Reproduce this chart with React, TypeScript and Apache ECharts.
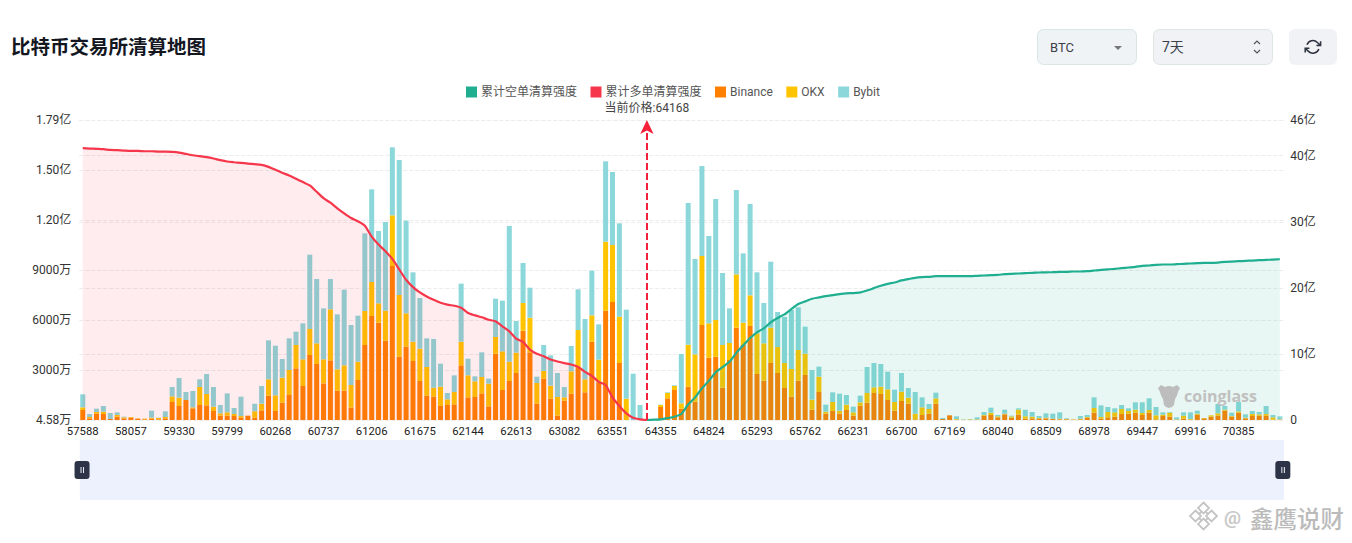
import React, { useEffect, useRef } from "react";
import * as echarts from "echarts";

const FONT = 'Roboto, "Noto Sans CJK SC", sans-serif';

const priceTicks = ["57588","58057","59330","59799","60268","60737","61206","61675","62144","62613","63082","63551","64355","64824","65293","65762","66231","66700","67169","68040","68509","68978","69447","69916","70385"];
const leftTickLabels = ["4.58万","3000万","6000万","9000万","1.20亿","1.50亿","1.79亿"];
const rightTickLabels = ["0","10亿","20亿","30亿","40亿","46亿"];

// Liquidation per price bucket, in units of 万
const binance = [
600,100,380,360,60,200,100,140,80,40,
80,40,100,1080,840,1200,700,900,880,540,
260,260,240,140,260,140,580,1460,540,1040,
1500,3100,2040,3900,3360,2200,3580,1760,1760,740,
2400,4500,6240,5840,4760,9240,3800,4400,3540,2340,
1460,1400,840,900,940,3280,1360,1380,1600,820,
3980,1800,2340,2820,5360,4060,980,2480,1280,260,
1160,1580,3200,1660,4700,2260,6560,7080,3420,0,
0,0,0,0,780,1300,1800,680,2000,1100,
5700,3740,3800,1940,3600,5540,4500,5640,2760,2360,
3420,2820,1920,1400,2360,2700,620,1680,380,540,
380,600,260,860,1040,1620,1560,1200,560,1140,
980,40,300,380,980,60,280,20,0,0,
20,260,300,160,340,140,320,80,100,80,
100,60,40,40,20,40,140,440,80,160,
200,360,380,440,300,440,40,240,200,20,
80,20,320,100,200,260,560,200,440,100,
240,260,260,20,20];
const okx = [
160,80,100,140,0,100,60,40,20,40,
60,80,80,340,500,0,60,1080,680,260,
140,200,120,100,0,380,400,980,940,1500,
1500,1400,1600,1560,1240,1440,3060,1280,1520,1360,
1100,2040,2040,1160,1800,3040,3700,2000,1160,1940,
1720,540,1160,340,740,1420,1320,940,980,1360,
1000,2320,1160,1220,1660,2080,1240,460,780,1120,
200,1340,2200,780,1580,1360,4140,3420,2780,1280,
0,0,0,0,120,320,240,320,2520,2840,
4140,2060,2200,2560,1020,3200,1340,1840,2440,2240,
2120,1560,1500,1660,1840,1280,600,920,120,540,
180,320,200,200,580,340,440,640,520,560,
360,340,460,280,320,0,0,40,20,40,
20,40,140,60,40,80,300,140,100,40,
40,20,40,20,20,40,40,280,100,320,
260,300,160,180,120,160,240,80,240,20,
180,40,60,20,80,140,60,40,80,40,
120,80,100,140,20];
const bybit = [
780,180,200,340,360,160,40,0,0,0,
420,20,340,560,1180,480,980,460,1200,1180,
500,1140,360,1160,0,460,1060,2340,2980,1120,
1900,800,2160,4460,3860,3060,1820,3300,4540,3600,
2760,4660,5560,4340,5320,4080,8100,5560,4160,3040,
1720,2920,1380,380,1000,3480,1000,300,1480,300,
2300,3040,8140,1900,2400,1800,380,1560,1820,1440,
620,1520,2440,3620,2680,2120,4820,4380,5600,5340,
2780,900,0,0,20,40,40,2960,8500,5720,
5400,5240,7260,4320,2080,5060,4160,5480,3660,2420,
3960,2100,2760,3540,2560,1620,1780,600,420,580,
1020,580,340,400,1560,1460,1360,1060,740,1120,
580,1300,600,300,340,60,0,160,20,20,
120,180,300,80,240,40,80,400,280,120,
260,300,380,40,0,160,120,640,700,300,
240,240,160,440,640,700,500,140,40,120,
200,400,180,0,0,560,220,200,560,200,
180,140,480,140,180];

// Cumulative long liquidation intensity, in 亿 (left of the current price)
const longCumulative = [
41.13,41.08,41.03,40.98,40.87,40.83,40.77,40.72,40.72,40.67,
40.67,40.62,40.62,40.57,40.47,40.27,40.07,39.92,39.77,39.57,
39.32,39.12,39.01,38.91,38.81,38.71,38.61,38.31,37.86,37.41,
37.00,36.50,36.00,35.50,34.54,33.58,32.88,32.03,31.27,30.57,
30.07,29.41,27.75,26.55,25.54,24.38,22.78,21.22,20.11,19.31,
18.70,18.20,17.75,17.45,17.29,16.99,16.19,15.84,15.54,15.18,
14.93,14.18,13.42,12.32,11.81,10.66,10.01,9.65,9.15,8.85,
8.60,8.40,8.04,7.29,6.69,5.78,5.28,3.42,2.11,1.01,
0.35,0.10,0];
// Cumulative short liquidation intensity, in 亿 (right of the current price)
const shortCumulative = [
0,0.05,0.10,0.30,0.50,0.90,2.36,3.42,4.78,5.93,
7.24,7.99,8.80,10.16,11.31,12.42,13.27,13.88,14.78,15.43,
15.99,16.79,17.55,17.95,18.35,18.55,18.75,18.90,19.05,19.16,
19.21,19.31,19.61,19.96,20.31,20.61,20.81,21.12,21.32,21.52,
21.62,21.67,21.77,21.77,21.77,21.77,21.77,21.77,21.82,21.87,
21.92,21.97,22.07,22.12,22.17,22.22,22.27,22.32,22.35,22.37,
22.42,22.42,22.47,22.47,22.52,22.62,22.73,22.78,22.88,22.98,
23.08,23.18,23.33,23.38,23.48,23.53,23.53,23.58,23.63,23.68,
23.73,23.78,23.78,23.83,23.93,23.98,24.03,24.08,24.13,24.18,
24.23,24.28,24.33];
const currentPriceIndex = 82;

const categories = binance.map((_, i) => (i % 7 === 0 ? priceTicks[i / 7] : String(i)));

const cgLogo = "M3 2 L7 4 Q11 2 15 4 L19 2 L22 5 L20 9 Q19 14 17 16 L16 22 Q14 25 11 25 Q8 25 6 22 L5 16 Q3 14 2 9 L0 5 Z";
const refreshIcon = "M23 4v6h-6 M1 20v-6h6 M3.51 9a9 9 0 0 1 14.85-3.36L23 10 M1 14l4.64 4.36A9 9 0 0 0 20.49 15";
echarts.graphic.registerShape("cgLogo", echarts.graphic.extendPath(cgLogo, {}));
echarts.graphic.registerShape("refreshIcon", echarts.graphic.extendPath(refreshIcon, {}));

const handlePath = "path://M3 0H12A3 3 0 0 1 15 3V15A3 3 0 0 1 12 18H3A3 3 0 0 1 0 15V3A3 3 0 0 1 3 0Z M6 6V12H7V6Z M8.5 6V12H9.5V6Z";

function diamond(cx: number, cy: number, r: number) {
  return {
    type: "polygon", z: 20,
    shape: { points: [[cx, cy - r], [cx + r, cy], [cx, cy + r], [cx - r, cy]] },
    style: { fill: "#fff", stroke: "#c4c4c4", lineWidth: 1.8 },
  };
}

export default function App() {
  const ref = useRef<HTMLDivElement>(null);
  useEffect(() => {
    const chart = echarts.init(ref.current!, null, { renderer: "svg" });
    const barSeries = (name: string, data: number[], color: string) => ({
      name, type: "bar", stack: "liq", yAxisIndex: 0, barWidth: 5, z: 1, data,
      itemStyle: { color }, emphasis: { disabled: true },
    });
    chart.setOption({
      animation: false,
      backgroundColor: "#fff",
      textStyle: { fontFamily: FONT },
      title: {
        text: "比特币交易所清算地图", left: 6, top: 31,
        textStyle: { fontSize: 19.5, fontWeight: 700, color: "#14171f", fontFamily: '"Noto Sans CJK SC", sans-serif' },
      },
      legend: {
        left: 461, top: 81, itemWidth: 11, itemHeight: 11, itemGap: 13.5, icon: "rect",
        data: ["累计空单清算强度", "累计多单清算强度", "Binance", "OKX", "Bybit"],
        textStyle: { fontSize: 12, color: "#555", fontFamily: FONT, padding: [0, 0, 0, -1] },
      },
      grid: { left: 79.3, right: 68.7, top: 120, height: 300 },
      xAxis: {
        type: "category", data: categories, boundaryGap: true,
        axisLine: { show: false }, axisTick: { show: false },
        axisLabel: { interval: 6, margin: 6, color: "#222", fontSize: 11.3, fontFamily: FONT },
      },
      yAxis: [
        {
          type: "value", min: 0, max: 18000, interval: 3000, position: "left",
          axisLine: { show: false }, axisTick: { show: false },
          axisLabel: { margin: 8, color: "#333", fontSize: 12, fontFamily: FONT, formatter: (_: number, i: number) => leftTickLabels[i] },
          splitLine: { show: true, lineStyle: { type: "dashed", color: "#ececec" } },
        },
        {
          type: "value", min: 0, max: 45.4, interval: 10, position: "right",
          axisLine: { show: false }, axisTick: { show: false },
          axisLabel: { margin: 7, color: "#333", fontSize: 12, fontFamily: FONT, formatter: (_: number, i: number) => rightTickLabels[i] },
          splitLine: { show: true, lineStyle: { type: "dashed", color: "#ececec" } },
        },
      ],
      dataZoom: [{
        type: "slider", xAxisIndex: 0, left: 79, right: 69, top: 440, height: 60,
        start: 0.1, end: 100,
        backgroundColor: "#EDF1FD", fillerColor: "#EDF1FD", borderColor: "transparent",
        showDetail: false, showDataShadow: false, brushSelect: false, moveHandleSize: 0,
        handleIcon: handlePath, handleSize: "30%",
        handleStyle: { color: "#2E3447", borderColor: "#2E3447", borderWidth: 0 },
        emphasis: { handleStyle: { color: "#2E3447", borderWidth: 0, shadowBlur: 0 } },
        dataBackground: { lineStyle: { opacity: 0 }, areaStyle: { opacity: 0 } },
        selectedDataBackground: { lineStyle: { opacity: 0 }, areaStyle: { opacity: 0 } },
      }],
      series: [
        {
          name: "累计空单清算强度", type: "line", yAxisIndex: 1, z: 2, showSymbol: false, smooth: 0.2,
          data: [...Array(currentPriceIndex).fill(null), ...shortCumulative],
          itemStyle: { color: "#1FAF90" }, lineStyle: { color: "#1FAF90", width: 2.2 },
          areaStyle: { color: "rgba(26,172,142,0.1)", opacity: 1 },
        },
        {
          name: "累计多单清算强度", type: "line", yAxisIndex: 1, z: 2, showSymbol: false, smooth: 0.2,
          data: longCumulative,
          itemStyle: { color: "#F6364A" }, lineStyle: { color: "#F6364A", width: 2.2 },
          areaStyle: { color: "rgba(242,48,72,0.095)", opacity: 1 },
          markLine: {
            silent: true, symbol: ["none", "arrow"], symbolSize: [10, 14], animation: false,
            lineStyle: { color: "#F5203A", type: [7, 3], width: 2 },
            label: { show: true, position: "end", distance: 6, formatter: "当前价格:64168", color: "#444", fontSize: 12, fontFamily: FONT },
            data: [{ xAxis: currentPriceIndex }],
          },
        },
        barSeries("Binance", binance, "#FF8000"),
        barSeries("OKX", okx, "#FFC400"),
        barSeries("Bybit", bybit, "#8BD7DA"),
      ],
      graphic: {
        elements: [
          { type: "rect", z: 20, shape: { x: 1037.5, y: 29.5, width: 99, height: 35, r: 6 }, style: { fill: "#F0F3F5", stroke: "#D8E6E6", lineWidth: 1 } },
          { type: "text", z: 21, x: 1050, y: 47, style: { text: "BTC", fontSize: 13, fill: "#3a3f4a", fontFamily: FONT, verticalAlign: "middle" } },
          { type: "polygon", z: 21, shape: { points: [[1114, 46], [1122, 46], [1118, 50]] }, style: { fill: "#777" } },
          { type: "rect", z: 20, shape: { x: 1153.5, y: 29.5, width: 119, height: 35, r: 6 }, style: { fill: "#F0F2F5", stroke: "#DDE5E5", lineWidth: 1 } },
          { type: "text", z: 21, x: 1162, y: 47, style: { text: "7天", fontSize: 14, fill: "#3a3f4a", fontFamily: FONT, verticalAlign: "middle" } },
          { type: "polyline", z: 21, shape: { points: [[1254, 44], [1257, 41], [1260, 44]] }, style: { stroke: "#555", lineWidth: 1.2, fill: "none" } },
          { type: "polyline", z: 21, shape: { points: [[1254, 50], [1257, 53], [1260, 50]] }, style: { stroke: "#555", lineWidth: 1.2, fill: "none" } },
          { type: "rect", z: 20, shape: { x: 1289, y: 29, width: 48, height: 36, r: 6 }, style: { fill: "#F1F2F5" } },
          { type: "refreshIcon", z: 21, x: 1304.5, y: 38.5, scaleX: 0.7, scaleY: 0.7, style: { fill: "none", stroke: "#2d3440", lineWidth: 2.2 } },
          { type: "cgLogo", z: 15, x: 1158, y: 383, scaleX: 1, scaleY: 1, style: { fill: "#bdbdbd" } },
          { type: "text", z: 15, x: 1184, y: 396, style: { text: "coinglass", fontSize: 16, fontWeight: 700, fill: "#c0c0c0", fontFamily: '"Open Sans", sans-serif', verticalAlign: "middle" } },
          diamond(1203.5, 516, 6.5),
          diamond(1195.5, 516, 5.5),
          diamond(1211.5, 516, 5.5),
          diamond(1203.5, 508, 5.5),
          diamond(1203.5, 524, 5.5),
          { type: "text", z: 21, x: 1224, y: 517, style: { text: "@", fontSize: 19, fontWeight: 700, fill: "#c8c8c8", fontFamily: FONT, verticalAlign: "middle" } },
          { type: "text", z: 21, x: 1250, y: 518, style: { text: "鑫鹰说财", fontSize: 23.5, fontWeight: 500, fill: "#bbbbbb", fontFamily: '"Noto Sans CJK SC", sans-serif', verticalAlign: "middle" } },
        ],
      },
    });
    return () => chart.dispose();
  }, []);
  return <div ref={ref} style={{ position: "absolute", left: 0, top: 0, width: 1352, height: 543, background: "#fff" }} />;
}
